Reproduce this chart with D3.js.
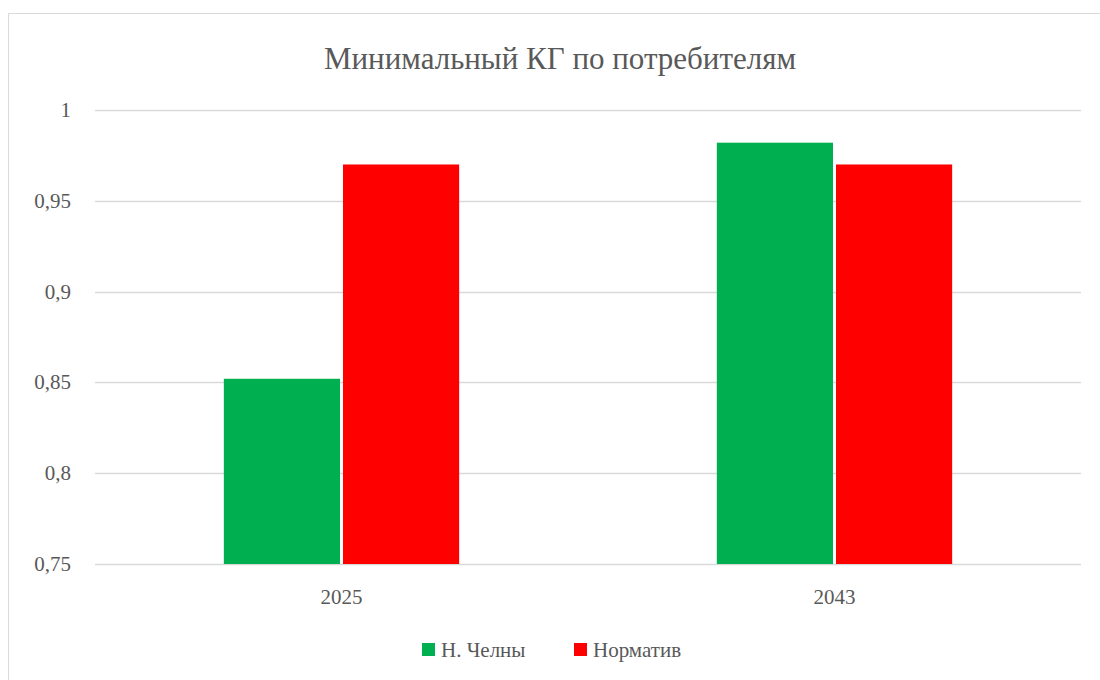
<!DOCTYPE html>
<html><head><meta charset="utf-8">
<script src="https://cdn.jsdelivr.net/npm/d3@7"></script>
</head><body style="margin:0">
<svg id="chart" width="1100" height="680"></svg>
<script>
const years = ["2025", "2043"];
const series = ["Н. Челны", "Норматив"];
const chelny = [0.852, 0.982];
const norm = [0.97, 0.97];
const yTicks = [0.75, 0.8, 0.85, 0.9, 0.95, 1];
const colors = ["#00b050", "#ff0000"];

const width = 1100;
const height = 680;
const margin = {top:110, right:19, bottom:116, left:95};
const textColor = "#595959";
const serif = "Liberation Serif, DejaVu Serif, serif";

const svg = d3.select("#chart");

// frame: only top and left edges are visible
svg.append("path")
  .attr("d", "M8.5,680 V13.5 H1100")
  .attr("fill", "none")
  .attr("stroke", "#d9d9d9")
  .attr("stroke-width", 1);

const rows = years.map((yr, i) => ({year: yr, values: [chelny[i], norm[i]]}));

// X scales
const x0 = d3.scaleBand()
  .domain(years)
  .range([margin.left, width - margin.right]);

const gap = 2.19; // excel gap width
const barW = x0.bandwidth() / (series.length + gap);
const x1 = d3.scaleBand()
  .domain(series)
  .range([barW * gap / 2, barW * gap / 2 + barW * series.length]);

// Y scale
const y = d3.scaleLinear()
  .domain([0.75, 1])
  .range([height - margin.bottom, margin.top]);

const fmt = d => d3.format("~g")(d).replace(".", ",");

// gridlines
svg.append("g")
  .selectAll("line")
  .data(yTicks)
  .enter()
  .append("line")
  .attr("x1", margin.left)
  .attr("x2", width - margin.right)
  .attr("y1", d => Math.round(y(d)) + 0.5)
  .attr("y2", d => Math.round(y(d)) + 0.5)
  .attr("stroke", "#d9d9d9")
  .attr("stroke-width", 1.5);

// bars
const groups = svg.append("g")
  .selectAll("g")
  .data(rows)
  .enter()
  .append("g")
  .attr("transform", d => `translate(${x0(d.year)},0)`);

groups.selectAll("rect")
  .data(d => d.values.map((v, i) => ({key: series[i], value: v, i: i})))
  .enter()
  .append("rect")
  .attr("x", d => x1(d.key) + (d.i === 0 ? 0 : 1.5))
  .attr("width", x1.bandwidth() - 1.5)
  .attr("y", d => y(d.value))
  .attr("height", d => y(0.75) - y(d.value))
  .attr("fill", d => colors[d.i]);

// y labels
yTicks.forEach(t => {
  svg.append("text")
    .attr("x", 71)
    .attr("y", y(t) + 7)
    .attr("text-anchor", "end")
    .attr("font-family", serif)
    .attr("font-size", 21)
    .attr("fill", textColor)
    .text(fmt(t));
});

// category labels
years.forEach(yr => {
  svg.append("text")
    .attr("x", x0(yr) + x0.bandwidth() / 2)
    .attr("y", 604)
    .attr("text-anchor", "middle")
    .attr("font-family", serif)
    .attr("font-size", 21)
    .attr("fill", textColor)
    .text(yr);
});

// title
svg.append("text")
  .attr("x", 560)
  .attr("y", 69)
  .attr("text-anchor", "middle")
  .attr("font-family", serif)
  .attr("font-size", 31)
  .attr("fill", textColor)
  .text("Минимальный КГ по потребителям");

// legend
const legX = [422, 574];
series.forEach((s, i) => {
  svg.append("rect")
    .attr("x", legX[i])
    .attr("y", 643)
    .attr("width", 13)
    .attr("height", 13)
    .attr("fill", colors[i]);
  svg.append("text")
    .attr("x", legX[i] + 19)
    .attr("y", 657)
    .attr("font-family", serif)
    .attr("font-size", 21)
    .attr("fill", textColor)
    .text(s);
});
</script>
</body></html>
